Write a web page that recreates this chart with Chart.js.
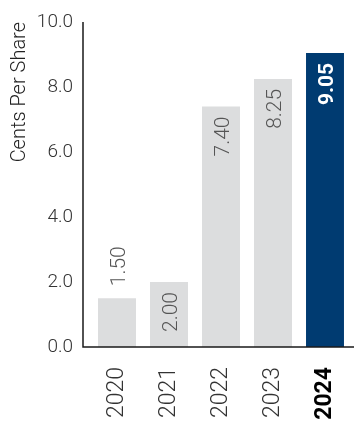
<!DOCTYPE html>
<html>
<head>
<meta charset="utf-8">
<script src="https://cdn.jsdelivr.net/npm/chart.js@4.4.1/dist/chart.umd.min.js"></script>
<style>
  html, body { margin: 0; padding: 0; background: #fff; }
  #wrap { width: 354px; height: 421px; }
</style>
</head>
<body>
<div id="wrap"><canvas id="epsChart" width="354" height="421"></canvas></div>
<script>
const years = ["2020", "2021", "2022", "2023", "2024"];
const centsPerShare = [1.50, 2.00, 7.40, 8.25, 9.05];
const yTicks = [0, 2, 4, 6, 8, 10];
const barColors = ["#dcddde", "#dcddde", "#dcddde", "#dcddde", "#003b71"];

const FONT = "Roboto, 'Liberation Sans', sans-serif";
const lastIdx = years.length - 1;

// L-shaped axis: y line sits a little left of the first bar, x line runs to the edge
const axisLines = {
    id: "axisLines",
    afterDraw(chart) {
        const { ctx, chartArea } = chart;
        const y = chart.scales.y;
        const base = y.getPixelForValue(0);
        const top = y.getPixelForValue(yTicks[yTicks.length - 1]);
        const x0 = chartArea.left - 8;
        ctx.save();
        ctx.strokeStyle = "#1a1a1a";
        ctx.lineWidth = 1.5;
        ctx.beginPath();
        ctx.moveTo(x0, top);
        ctx.lineTo(x0, base);
        ctx.lineTo(chart.width, base);
        ctx.stroke();
        ctx.restore();
    }
};

// vertical value labels, inside the bar when there is room, above it otherwise
const valueLabels = {
    id: "valueLabels",
    afterDatasetsDraw(chart) {
        const { ctx } = chart;
        const meta = chart.getDatasetMeta(0);
        meta.data.forEach((bar, i) => {
            const text = centsPerShare[i].toFixed(2);
            const isLast = i === lastIdx;
            const size = 21;
            ctx.save();
            ctx.font = (isLast ? "bold " : "300 ") + size + "px " + FONT;
            const w = ctx.measureText(text).width;
            const inside = bar.base - bar.y > w + 20;
            ctx.translate(bar.x, inside ? bar.y + 10 : bar.y - 12);
            ctx.rotate(-Math.PI / 2);
            ctx.textAlign = inside ? "right" : "left";
            ctx.textBaseline = "alphabetic";
            ctx.fillStyle = isLast ? "#ffffff" : "#555555";
            ctx.fillText(text, 0, size * 0.36);
            ctx.restore();
        });
    }
};

new Chart(document.getElementById("epsChart"), {
    type: "bar",
    data: {
        labels: years,
        datasets: [{
            data: centsPerShare,
            backgroundColor: barColors,
            borderWidth: 0,
            barPercentage: 0.73,
            categoryPercentage: 1.0
        }]
    },
    options: {
        responsive: false,
        animation: false,
        devicePixelRatio: 1,
        layout: { padding: { top: 22, right: 3, left: 0, bottom: 0 } },
        plugins: {
            legend: { display: false },
            tooltip: { enabled: false }
        },
        scales: {
            x: {
                grid: { display: false, drawTicks: false },
                border: { display: false },
                ticks: {
                    padding: 20,
                    minRotation: 90,
                    maxRotation: 90,
                    color: ctx => ctx.index === lastIdx ? "#000000" : "#333333",
                    font: ctx => ({
                        family: FONT,
                        size: 23,
                        weight: ctx.index === lastIdx ? "bold" : "300"
                    })
                },
                afterFit: s => {
                    s.height = 74;
                    s.paddingLeft = 0;
                    s.paddingRight = 0;
                }
            },
            y: {
                min: 0,
                max: 10,
                afterBuildTicks: s => { s.ticks = yTicks.map(v => ({ value: v })); },
                grid: { display: false, drawTicks: false },
                border: { display: false },
                ticks: {
                    padding: 18,
                    color: "#333333",
                    font: { family: FONT, size: 19, weight: "300" },
                    callback: v => Number(v).toFixed(1)
                },
                title: {
                    display: true,
                    text: "Cents Per Share",
                    align: "end",
                    color: "#222222",
                    font: { family: FONT, size: 20, weight: "300" },
                    padding: { top: 8, bottom: 0 }
                },
                afterFit: s => {
                    s.width = 91;
                    s.paddingTop = 0;
                    s.paddingBottom = 0;
                }
            }
        }
    },
    plugins: [axisLines, valueLabels]
});
</script>
</body>
</html>
